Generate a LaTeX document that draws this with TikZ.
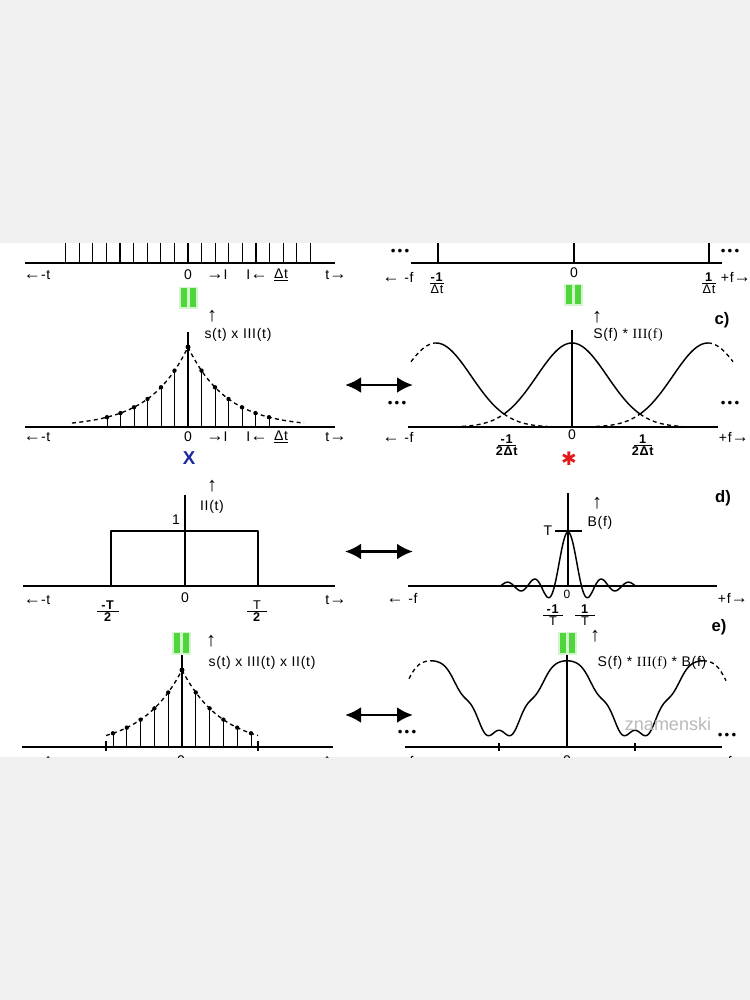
\documentclass[tikz,border=0pt]{standalone}
\usepackage{amsmath}
\usepackage{fontspec}
\setmainfont{Liberation Sans}
\newfontfamily\lblfam[LetterSpace=5]{Liberation Sans}
\newfontfamily\serfam[LetterSpace=3]{Liberation Serif}
\newfontfamily\symfam{DejaVu Sans}
\usetikzlibrary{arrows.meta}
\definecolor{bggray}{RGB}{240,240,240}
\definecolor{eqgreen}{RGB}{78,214,58}
\definecolor{xblue}{RGB}{28,40,160}
\definecolor{starred}{RGB}{225,25,25}
\definecolor{wmgray}{RGB}{185,185,185}
\newcommand\myfr[3]{$\genfrac{}{}{0.6pt}{}{\hbox to #1{\hss#2\hss}}{\hbox to #1{\hss#3\hss}}$}
\newcommand\la{{\fontsize{13}{13}\lblfam ←}}
\newcommand\ra{{\fontsize{13}{13}\lblfam →}}
\newcommand\eqsign[3]{%
  \fill[eqgreen!40,opacity=0.6] ({#1-9.5},{#2-1.5}) rectangle ({#1+9.5},{#3+1.5});
  \fill[eqgreen] ({#1-7.5},#2) rectangle ({#1-1.5},#3);
  \fill[eqgreen] ({#1+1.5},#2) rectangle ({#1+7.5},#3);}
\newcommand\tlabels[3]{%
  \node[lbl] (#1a) at (37,#2) {\la-t};
  \node[lbl] (#1b) at (#3,#2) {0};
  \node[lbl] (#1c) at (217,#2) {\ra I};
  \node[lbl] (#1d) at (257,#2) {I\la};
  \node[lbl] (#1e) at (281,#2) {\underline{Δt}};
  \node[lbl] (#1f) at (336,#2) {t\ra};}
\tikzset{
  axisline/.style={line width=1.1pt},
  tickline/.style={line width=0.85pt},
  stemline/.style={line width=0.75pt},
  curveline/.style={line width=1.1pt, line join=round},
  dashline/.style={line width=1pt, dash pattern=on 3pt off 2.5pt},
  lbl/.style={inner sep=0pt, font=\fontsize{10.5}{11}\lblfam},
  uparr/.style={inner sep=0pt, font=\fontsize{15}{15}\lblfam},
  frlbl/.style={inner sep=0pt, font=\fontsize{9.5}{10}\lblfam},
  smalllbl/.style={inner sep=0pt, font=\fontsize{9}{9}\lblfam},
  titlelbl/.style={inner sep=0pt, font=\fontsize{12.5}{13}\bfseries},
  dotslbl/.style={inner sep=0pt, font=\fontsize{10}{10}\selectfont},
  xlbl/.style={inner sep=0pt, text=xblue, font=\fontsize{14}{14}\bfseries},
  starlbl/.style={inner sep=0pt, text=starred, font=\fontsize{14}{14}\symfam},
  wmlbl/.style={inner sep=0pt, text=wmgray, font=\fontsize{13.5}{14}\selectfont},
  dblarrow/.style={line width=2.2pt, {Latex[length=12pt,width=12pt]}-{Latex[length=12pt,width=12pt]}},
}
\begin{document}
\begin{tikzpicture}[x=0.75pt,y=-0.75pt]
\useasboundingbox (0,0) rectangle (750,1000);
\fill[bggray] (0,0) rectangle (750,1000);
\fill[white] (0,243) rectangle (750,757);
\begin{scope}
\clip (0,243) rectangle (750,757);

% ===== Panel 1: comb
\draw[axisline] (25,263) -- (335,263);
\foreach \k in {-9,...,9} \draw[tickline] ({188+13.6*\k},240) -- ({188+13.6*\k},263);
\tlabels{pa}{275}{188}
\eqsign{188.5}{288}{307}
\node[uparr] (paup) at (212,316) {↑};
\node[lbl] (palab) at (238,335) {s(t) x III(t)};

% ===== Panel 2: comb spectrum
\draw[axisline] (411,263) -- (722,263);
\draw[tickline] (438,240) -- (438,263);
\draw[tickline] (574,240) -- (574,263);
\draw[tickline] (709,240) -- (709,263);
\node[dotslbl] (pbdl) at (400,252) {•\,•\,•};
\node[dotslbl] (pbdr) at (730,252) {•\,•\,•};
\node[lbl] (pbf) at (398,277) {\la\ -f};
\node[frlbl] (pbm) at (437,283) {\myfr{10pt}{\textbf{-1}}{Δt}};
\node[lbl] (pbz) at (574,273) {0};
\node[frlbl] (pbp) at (709,283) {\myfr{10pt}{\textbf{1}}{Δt}};
\node[lbl] (pbr) at (736,277) {+f\ra};
\eqsign{573.5}{285}{304}
\node[uparr] (pbup) at (597,317) {↑};
\node[lbl] (pblab) at (628,335) {S(f) * {\serfam III(f)}};
\node[titlelbl] (pbt) at (722,320) {c)};

% ===== Panel 3: sampled signal
\draw[axisline] (25,427) -- (335,427);
\draw[axisline] (188,332) -- (188,427);
\fill (188,347) circle[radius=2.5];
\foreach \k in {1,...,6} {
  \pgfmathsetmacro\hh{80*exp(-0.35*\k)}
  \draw[stemline] ({188+13.5*\k},427) -- ({188+13.5*\k},{427-\hh});
  \fill ({188+13.5*\k},{427-\hh}) circle[radius=2.2];
  \draw[stemline] ({188-13.5*\k},427) -- ({188-13.5*\k},{427-\hh});
  \fill ({188-13.5*\k},{427-\hh}) circle[radius=2.2];
}
\draw[dashline] plot[domain=72:188,samples=50] (\x,{427-80*exp(-(188-\x)/38.6)});
\draw[dashline] plot[domain=188:304,samples=50] (\x,{427-80*exp(-(\x-188)/38.6)});
\tlabels{pc}{437}{188}
\node[xlbl] (pcx) at (189,458) {X};

% ===== double arrows
\coordinate (daAl) at (345,385); \coordinate (daAr) at (413,385);
\draw[dblarrow] (daAl) -- (daAr);
\coordinate (daBl) at (345,551.5); \coordinate (daBr) at (413,551.5);
\draw[dblarrow] (daBl) -- (daBr);
\coordinate (daCl) at (345,715); \coordinate (daCr) at (413,715);
\draw[dblarrow] (daCl) -- (daCr);

% ===== Panel 4: periodic spectrum
\draw[axisline] (408,427) -- (718,427);
\draw[axisline] (572,330) -- (572,427);
\draw[curveline] plot[domain=436:504,samples=40] (\x,{427-84*exp(-0.5*((\x-436)/35.2)^2)})
  -- plot[domain=504:640,samples=80] (\x,{427-84*exp(-0.5*((\x-572)/35.2)^2)})
  -- plot[domain=640:708,samples=40] (\x,{427-84*exp(-0.5*((\x-708)/35.2)^2)});
\draw[dashline] plot[domain=411:436,samples=15] (\x,{427-84*exp(-0.5*((\x-436)/35.2)^2)});
\draw[dashline] plot[domain=708:733,samples=15] (\x,{427-84*exp(-0.5*((\x-708)/35.2)^2)});
\draw[dashline] plot[domain=462:504,samples=20] (\x,{427-84*exp(-0.5*((\x-572)/35.2)^2)});
\draw[dashline] plot[domain=504:548,samples=20] (\x,{427-84*exp(-0.5*((\x-436)/35.2)^2)});
\draw[dashline] plot[domain=596:640,samples=20] (\x,{427-84*exp(-0.5*((\x-708)/35.2)^2)});
\draw[dashline] plot[domain=640:682,samples=20] (\x,{427-84*exp(-0.5*((\x-572)/35.2)^2)});
\node[dotslbl] (pddl) at (397,404) {•\,•\,•};
\node[dotslbl] (pddr) at (730,404) {•\,•\,•};
\node[lbl] (pdf) at (398,437) {\la\ -f};
\node[frlbl] (pdm) at (507,445) {\myfr{13pt}{\textbf{-1}}{\textbf{2Δt}}};
\node[lbl] (pdz) at (572,435) {0};
\node[frlbl] (pdp) at (643,445) {\myfr{13pt}{\textbf{1}}{\textbf{2Δt}}};
\node[lbl] (pdr) at (734,437) {+f\ra};
\node[starlbl] (pds) at (569,459) {✱};

% ===== Panel 5: rectangle window
\draw[axisline] (23,586) -- (335,586);
\draw[axisline] (185,495) -- (185,586);
\draw[curveline] (111,586) -- (111,531) -- (258,531) -- (258,586);
\node[uparr] (peup) at (212,486) {↑};
\node[lbl] (pelab) at (212,507) {II(t)};
\node[lbl] (peone) at (176,520) {1};
\node[lbl] (pea) at (37,600) {\la-t};
\node[frlbl] (pem) at (108,611) {\myfr{16pt}{\textbf{-T}}{\textbf{2}}};
\node[lbl] (pez) at (185,598) {0};
\node[frlbl] (pep) at (257,611) {\myfr{15pt}{T}{\textbf{2}}};
\node[lbl] (peb) at (336,600) {t\ra};

% ===== Panel 6: sinc
\draw[axisline] (408,586) -- (717,586);
\draw[tickline] (568,493) -- (568,586);
\draw[curveline] plot[domain=500.5:635.5,samples=136] (\x,{586-54*sin(13.3333*(\x-568))/(0.232711*(\x-568))});
\draw[tickline] (555,531) -- (582,531);
\node[lbl] (pfT) at (548,531) {T};
\node[uparr] (pfup) at (597,503) {↑};
\node[lbl] (pflab) at (600,523) {B(f)};
\node[titlelbl] (pft) at (723,498) {d)};
\node[lbl] (pff) at (402,598) {\la\ -f};
\node[smalllbl] (pfz) at (567,594) {0};
\node[frlbl] (pfm) at (553,615) {\myfr{15pt}{\textbf{-1}}{T}};
\node[frlbl] (pfp) at (585,615) {\myfr{15pt}{\textbf{1}}{T}};
\node[lbl] (pfr) at (733,598) {+f\ra};

% ===== Panel 7: windowed samples
\draw[axisline] (22,747) -- (333,747);
\draw[axisline] (182,655) -- (182,747);
\fill (182,670) circle[radius=2.5];
\foreach \k in {1,...,5} {
  \pgfmathsetmacro\hh{77*exp(-0.345*\k)}
  \draw[stemline] ({182+13.8*\k},747) -- ({182+13.8*\k},{747-\hh});
  \fill ({182+13.8*\k},{747-\hh}) circle[radius=2.2];
  \draw[stemline] ({182-13.8*\k},747) -- ({182-13.8*\k},{747-\hh});
  \fill ({182-13.8*\k},{747-\hh}) circle[radius=2.2];
}
\draw[tickline] (106,741) -- (106,751);
\draw[tickline] (258,741) -- (258,751);
\draw[dashline] plot[domain=106:182,samples=40] (\x,{747-77*exp(-(182-\x)/40)});
\draw[dashline] plot[domain=182:258,samples=40] (\x,{747-77*exp(-(\x-182)/40)});
\eqsign{181}{633}{653}
\node[uparr] (pgup) at (211,641) {↑};
\node[lbl] (pglab) at (262,663) {s(t) x III(t) x II(t)};
\node[lbl] (pga) at (37,761) {\la-t};
\node[frlbl] (pgm) at (107,772) {\myfr{16pt}{\textbf{-T}}{\textbf{2}}};
\node[lbl] (pgz) at (181,761) {0};
\node[frlbl] (pgp) at (258,772) {\myfr{15pt}{T}{\textbf{2}}};
\node[lbl] (pgb) at (336,761) {t\ra};

% ===== Panel 8: windowed spectrum
\draw[axisline] (405,747) -- (722,747);
\draw[tickline] (567,655) -- (567,747);
\draw[tickline] (499,743) -- (499,751);
\draw[tickline] (635,743) -- (635,751);
\draw[curveline] plot[domain=431:703,samples=240] (\x,{698-38*cos(2.647059*(\x-567))+2.5*(1.3-cos(2.647059*(\x-567)))*cos(13.235294*(\x-567))});
\draw[dashline] plot[domain=409:431,samples=15] (\x,{698-38*cos(2.647059*(\x-567))+2.5*(1.3-cos(2.647059*(\x-567)))*cos(13.235294*(\x-567))});
\draw[dashline] plot[domain=703:726,samples=15] (\x,{698-38*cos(2.647059*(\x-567))+2.5*(1.3-cos(2.647059*(\x-567)))*cos(13.235294*(\x-567))});
\eqsign{567.5}{633}{653}
\node[uparr] (phup) at (595,636) {↑};
\node[lbl] (phlab) at (652,663) {S(f) * {\serfam III(f)} * B(f)};
\node[titlelbl] (pht) at (719,627) {e)};
\node[dotslbl] (phdl) at (407,733) {•\,•\,•};
\node[wmlbl] (phwm) at (668,724) {znamenski};
\node[dotslbl] (phdr) at (727,736) {•\,•\,•};
\node[lbl] (phf) at (398,761) {\la\ -f};
\node[frlbl] (phm) at (499,772) {\myfr{13pt}{\textbf{-1}}{\textbf{2Δt}}};
\node[lbl] (phz) at (567,761) {0};
\node[frlbl] (php) at (635,772) {\myfr{13pt}{\textbf{1}}{\textbf{2Δt}}};
\node[lbl] (phr) at (734,761) {+f\ra};
\end{scope}
\end{tikzpicture}
\end{document}
